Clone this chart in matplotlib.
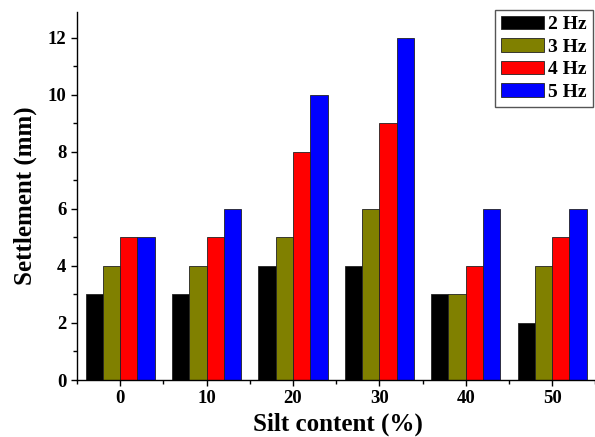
import matplotlib
matplotlib.use("Agg")
import matplotlib.pyplot as plt
import numpy as np
from matplotlib.ticker import MultipleLocator

categories = [0, 10, 20, 30, 40, 50]
series_names = ["2 Hz", "3 Hz", "4 Hz", "5 Hz"]
hz2 = [3, 3, 4, 4, 3, 2]
hz3 = [4, 4, 5, 6, 3, 4]
hz4 = [5, 5, 8, 9, 4, 5]
hz5 = [5, 6, 10, 12, 6, 6]
colors = ["#000000", "#808000", "#ff0000", "#0000ff"]

plt.rcParams['font.family'] = ['Liberation Serif', 'DejaVu Serif']
plt.rcParams['font.weight'] = 'bold'

fig = plt.figure(figsize=(5.95, 4.37), dpi=100)
ax = fig.add_axes([0.1294, 0.1304, 0.877, 0.842])

x = np.array(categories, dtype=float)
width = 2.0
offsets = [-3, -1, 1, 3]
for vals, name, c, off in zip([hz2, hz3, hz4, hz5], series_names, colors, offsets):
    ax.bar(x + off, vals, width=width, color=c, edgecolor='#222222', linewidth=0.6, label=name)

ax.set_xlim(-5, 55.4)
ax.set_ylim(0, 12.9)
ax.set_xticks(categories)
ax.xaxis.set_minor_locator(MultipleLocator(5))
ax.yaxis.set_major_locator(MultipleLocator(2))
ax.yaxis.set_minor_locator(MultipleLocator(1))
ax.spines['top'].set_visible(False)
ax.spines['right'].set_visible(False)
ax.spines['left'].set_linewidth(1.0)
ax.spines['bottom'].set_linewidth(1.0)
ax.tick_params(axis='both', which='major', direction='out', length=4, width=1, labelsize=13.5)
ax.tick_params(axis='both', which='minor', direction='out', length=3, width=1)
for lab in ax.get_xticklabels() + ax.get_yticklabels():
    lab.set_fontweight('bold')

ax.set_xlabel("Silt content (%)", fontsize=18, fontweight='bold', labelpad=4)
ax.set_ylabel("Settlement (mm)", fontsize=18, fontweight='bold', labelpad=8)

leg = ax.legend(loc='upper left', bbox_to_anchor=(495 / 595, 1 - 10 / 437),
                bbox_transform=fig.transFigure,
                prop={'size': 14, 'weight': 'bold'},
                fancybox=False, edgecolor='#555555', framealpha=1, handlelength=2.2,
                handleheight=0.7, labelspacing=0.25, borderpad=0.3, handletextpad=0.25,
                borderaxespad=0.0)
leg.get_frame().set_linewidth(1.0)

fig.savefig("out.png", dpi=100)
